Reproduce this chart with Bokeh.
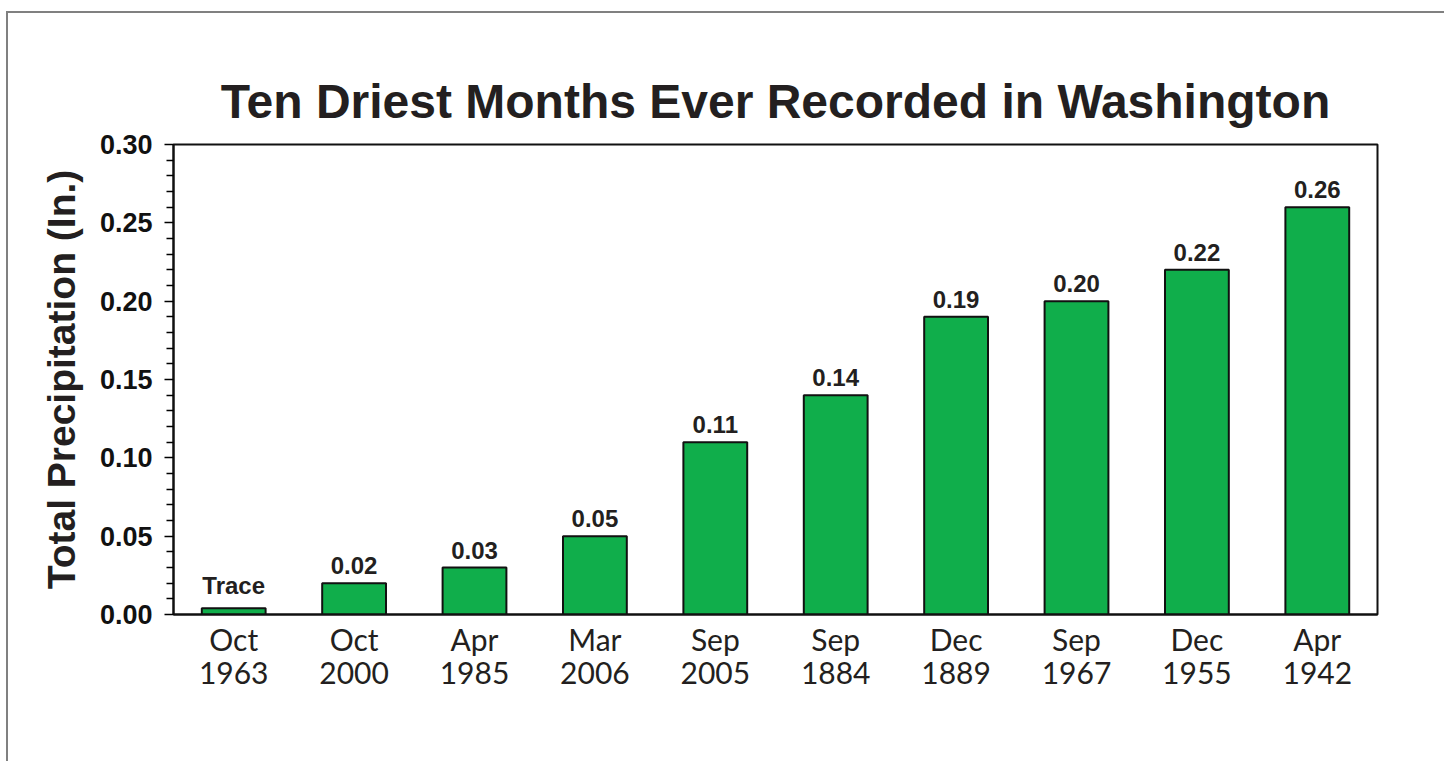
from bokeh.plotting import figure
from bokeh.models import FactorRange, Range1d, FixedTicker, ColumnDataSource, CustomJSTickFormatter
from bokeh.core.properties import value
from bokeh.embed import file_html
from bokeh.resources import INLINE

# ---- data ----
months = ["Oct\n1963", "Oct\n2000", "Apr\n1985", "Mar\n2006", "Sep\n2005",
          "Sep\n1884", "Dec\n1889", "Sep\n1967", "Dec\n1955", "Apr\n1942"]
precip = [0.004, 0.02, 0.03, 0.05, 0.11, 0.14, 0.19, 0.20, 0.22, 0.26]
bar_labels = ["Trace", "0.02", "0.03", "0.05", "0.11", "0.14", "0.19", "0.20", "0.22", "0.26"]
y_ticks = [0.0, 0.05, 0.10, 0.15, 0.20, 0.25, 0.30]
y_minor = [0.01, 0.02, 0.03, 0.04, 0.06, 0.07, 0.08, 0.09, 0.11, 0.12, 0.13, 0.14,
           0.16, 0.17, 0.18, 0.19, 0.21, 0.22, 0.23, 0.24, 0.26, 0.27, 0.28, 0.29]

src = ColumnDataSource(dict(m=months, v=precip, t=bar_labels))

W, H = 1438, 750
p = figure(width=W, height=H, output_backend="svg", toolbar_location=None,
           x_range=FactorRange(*months, range_padding=0),
           y_range=Range1d(0, 0.30),
           title="Ten Driest Months Ever Recorded in Washington",
           min_border_left=165, min_border_right=W - 1369,
           min_border_top=131, min_border_bottom=H - 601)

p.styles = {"border-top": "2px solid #808080", "border-left": "2px solid #808080",
            "margin-left": "6px", "margin-top": "11px"}

p.title.align = "center"
p.title.text_font = "Liberation Sans"
p.title.text_font_style = "bold"
p.title.text_font_size = "48px"
p.title.text_color = "#231f20"
p.title.standoff = 34

p.vbar(x="m", top="v", width=0.53, source=src, fill_color="#10ae4b",
       line_color="#111111", line_width=2)
p.text(x="m", y="v", text="t", source=src, text_align="center",
       text_baseline="bottom", y_offset=-9, text_font=value("Liberation Sans"),
       text_font_style="bold", text_font_size="24px", text_color="#231f20")

p.xgrid.visible = False
p.ygrid.visible = False
p.outline_line_color = "#111111"
p.outline_line_width = 2
p.outline_line_alpha = 1.0
p.background_fill_color = "white"
p.border_fill_color = "white"

ya = p.yaxis[0]
ya.ticker = FixedTicker(ticks=y_ticks, minor_ticks=y_minor)
ya.formatter = CustomJSTickFormatter(code="return tick.toFixed(2);")
ya.axis_line_color = "#111111"
ya.axis_line_width = 2
ya.major_tick_in = 0
ya.major_tick_out = 9
ya.minor_tick_in = 0
ya.minor_tick_out = 7
ya.major_tick_line_width = 1.5
ya.minor_tick_line_width = 1.5
ya.major_label_standoff = 12
ya.major_label_text_font = "Liberation Sans"
ya.major_label_text_font_style = "bold"
ya.major_label_text_font_size = "27px"
ya.major_label_text_color = "#111111"
ya.axis_label = "Total Precipitation (In.)"
ya.axis_label_text_font = "Liberation Sans"
ya.axis_label_text_font_style = "bold"
ya.axis_label_text_font_size = "39px"
ya.axis_label_text_color = "#231f20"
ya.axis_label_standoff = 14

xa = p.xaxis[0]
xa.axis_line_color = "#111111"
xa.axis_line_width = 2
xa.major_tick_line_color = None
xa.minor_tick_line_color = None
xa.major_label_standoff = 0
xa.major_label_text_font = "Lato"
xa.major_label_text_font_size = "30px"
xa.major_label_text_line_height = 0.92
xa.major_label_text_color = "#231f20"

open("out.html", "w").write(file_html(p, INLINE))
